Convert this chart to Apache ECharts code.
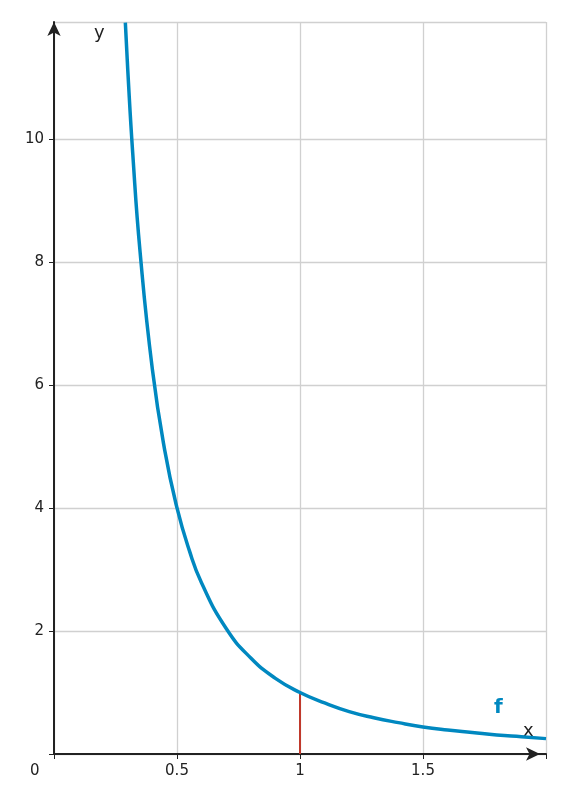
<!DOCTYPE html>
<html><head><meta charset="utf-8">
<script src="https://cdn.jsdelivr.net/npm/echarts@6/dist/echarts.min.js"></script>
<style>html,body{margin:0;padding:0;background:#fff}#c{width:563px;height:803px}</style>
</head><body><div id="c"></div>
<script>
const curveX = [0.29,0.3,0.32,0.35,0.4,0.45,0.5,0.55,0.6,0.7,0.8,0.9,1.0,1.1,1.2,1.3,1.4,1.5,1.6,1.7,1.8,1.9,2.0];
const curveY = [11.89,11.11,9.77,8.16,6.25,4.94,4.0,3.31,2.78,2.04,1.56,1.23,1.0,0.83,0.69,0.59,0.51,0.44,0.39,0.35,0.31,0.28,0.25];
const markX = [1,1];
const markY = [0,1];
const xTicks = [0.5,1,1.5];
const yTicks = [2,4,6,8,10];

const chart = echarts.init(document.getElementById('c'));
const font = 'DejaVu Sans';
chart.setOption({
  animation:false,
  grid:{left:54,right:17,top:22,bottom:49},
  xAxis:{type:'value',min:0,max:2,interval:0.5,
    axisLine:{show:true,symbol:['none','arrow'],symbolSize:[10,14],symbolOffset:[0,-6],lineStyle:{color:'#222',width:2}},
    axisTick:{show:true,length:5,lineStyle:{color:'#222'}},
    axisLabel:{color:'#222',fontFamily:font,fontSize:15,margin:10,
      formatter:v=>xTicks.includes(v)?String(v):''},
    splitLine:{show:true,lineStyle:{color:'#d0d0d0',width:1.3}}},
  yAxis:{type:'value',min:0,max:11.9,interval:2,
    axisLine:{show:true,symbol:['none','arrow'],symbolSize:[10,14],symbolOffset:[0,0],lineStyle:{color:'#222',width:2}},
    axisTick:{show:true,length:5,lineStyle:{color:'#222'}},
    axisLabel:{color:'#222',fontFamily:font,fontSize:15,margin:10,showMaxLabel:false,
      formatter:v=>yTicks.includes(v)?String(v):''},
    splitLine:{show:true,lineStyle:{color:'#d0d0d0',width:1.3}}},
  series:[
    {type:'line',data:curveX.map((x,i)=>[x,curveY[i]]),smooth:true,showSymbol:false,
      lineStyle:{color:'#0088c0',width:3.5},z:3},
    {type:'line',data:markX.map((x,i)=>[x,markY[i]]),showSymbol:false,
      lineStyle:{color:'#c0392b',width:2},z:2}
  ],
  graphic:[
    {type:'text',left:30,top:764,style:{text:'0',fill:'#222',font:'15px DejaVu Sans'}},
    {type:'text',left:94,top:24,style:{text:'y',fill:'#222',font:'18px DejaVu Sans'}},
    {type:'text',left:523,top:722,style:{text:'x',fill:'#222',font:'18px DejaVu Sans'}},
    {type:'text',left:494,top:698,style:{text:'f',fill:'#0088c0',font:'bold 20px DejaVu Sans'}}
  ]
});
</script></body></html>
